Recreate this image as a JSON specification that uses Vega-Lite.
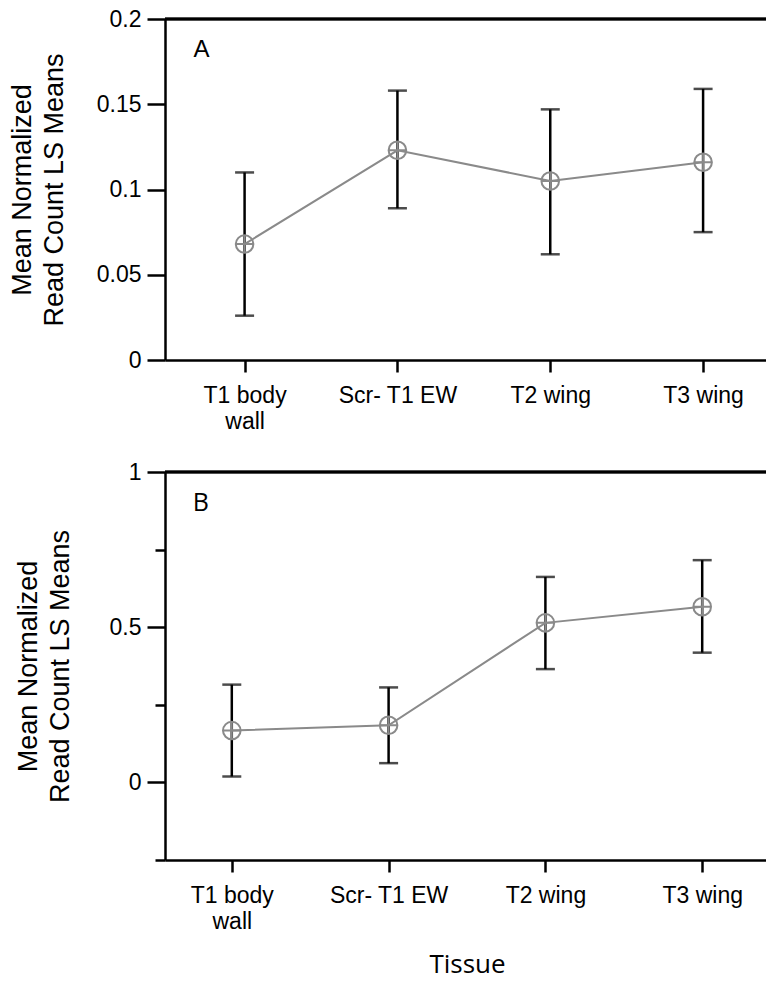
{
  "$schema": "https://vega.github.io/schema/vega-lite/v6.json",
  "background": "white",
  "padding": {"left": 8, "top": 8, "right": 0, "bottom": 0},
  "config": {
    "view": {"stroke": null},
    "font": "Liberation Sans",
    "axis": {
      "grid": false,
      "domainColor": "#000",
      "domainWidth": 2.5,
      "tickColor": "#000",
      "tickWidth": 2.5,
      "labelColor": "#000",
      "labelFont": "Liberation Sans",
      "titleFont": "Liberation Sans",
      "titleColor": "#000",
      "titleFontWeight": "normal"
    }
  },
  "columns": 1,
  "spacing": 28,
  "concat": [
    {
      "width": 604,
      "height": 341,
      "data": {"values": [
        {"tissue": "T1 body wall", "mean": 0.068, "lo": 0.026, "hi": 0.110},
        {"tissue": "Scr- T1 EW", "mean": 0.123, "lo": 0.089, "hi": 0.158},
        {"tissue": "T2 wing", "mean": 0.105, "lo": 0.062, "hi": 0.147},
        {"tissue": "T3 wing", "mean": 0.116, "lo": 0.075, "hi": 0.159}
      ]},
      "layer": [
        {
          "mark": {"type": "rule", "strokeWidth": 2.5, "color": "#000"},
          "encoding": {"y": {"datum": 0.2, "type": "quantitative"}}
        },
        {
          "mark": {"type": "rule", "strokeWidth": 2.5, "color": "#000"},
          "encoding": {
            "x": {"field": "tissue", "type": "ordinal", "sort": null,
              "scale": {"type": "point", "padding": 0.476, "align": 0.547},
              "axis": {"title": null, "labelFontSize": 23, "tickSize": 12, "labelPadding": 12, "labelAngle": 0,
                "labelLineHeight": 26,
                "labelExpr": "datum.value == 'T1 body wall' ? ['T1 body', 'wall'] : datum.value"}},
            "y": {"field": "lo", "type": "quantitative",
              "scale": {"domain": [0, 0.2], "nice": false, "zero": false},
              "axis": {"title": ["Mean Normalized", "Read Count LS Means"], "titleFontSize": 27, "titleLineHeight": 32,
                "titlePadding": 28, "labelFontSize": 23, "tickSize": 18, "labelPadding": 6,
                "values": [0, 0.05, 0.1, 0.15, 0.2], "format": "~g"}},
            "y2": {"field": "hi"}
          }
        },
        {
          "mark": {"type": "tick", "thickness": 2.5, "size": 19, "color": "#000"},
          "encoding": {
            "x": {"field": "tissue", "type": "ordinal", "sort": null},
            "y": {"field": "lo", "type": "quantitative"}
          }
        },
        {
          "mark": {"type": "tick", "thickness": 2.5, "size": 19, "color": "#000"},
          "encoding": {
            "x": {"field": "tissue", "type": "ordinal", "sort": null},
            "y": {"field": "hi", "type": "quantitative"}
          }
        },
        {
          "mark": {"type": "line", "color": "#8a8a8a", "strokeWidth": 2},
          "encoding": {
            "x": {"field": "tissue", "type": "ordinal", "sort": null},
            "y": {"field": "mean", "type": "quantitative"}
          }
        },
        {
          "mark": {"type": "point", "filled": false, "color": "#8a8a8a", "strokeWidth": 2, "size": 310, "opacity": 1,
            "shape": "M-1,0A1,1,0,1,1,1,0A1,1,0,1,1,-1,0ZM-1,0L1,0M0,-1L0,1"},
          "encoding": {
            "x": {"field": "tissue", "type": "ordinal", "sort": null},
            "y": {"field": "mean", "type": "quantitative"}
          }
        },
        {
          "data": {"values": [{"label": "A"}]},
          "mark": {"type": "text", "font": "Liberation Sans", "fontSize": 24, "color": "#000", "align": "center", "baseline": "middle", "dx": -43},
          "encoding": {
            "x": {"datum": "T1 body wall", "type": "ordinal"},
            "y": {"datum": 0.182, "type": "quantitative"},
            "text": {"field": "label"}
          }
        }
      ]
    },
    {
      "width": 604,
      "height": 388,
      "data": {"values": [
        {"tissue": "T1 body wall", "mean": 0.167, "lo": 0.019, "hi": 0.315},
        {"tissue": "Scr- T1 EW", "mean": 0.184, "lo": 0.062, "hi": 0.306},
        {"tissue": "T2 wing", "mean": 0.514, "lo": 0.365, "hi": 0.662},
        {"tissue": "T3 wing", "mean": 0.566, "lo": 0.418, "hi": 0.716}
      ]},
      "layer": [
        {
          "mark": {"type": "rule", "strokeWidth": 2.5, "color": "#000"},
          "encoding": {"y": {"datum": 1, "type": "quantitative"}}
        },
        {
          "mark": {"type": "rule", "strokeWidth": 2.5, "color": "#000"},
          "encoding": {
            "x": {"field": "tissue", "type": "ordinal", "sort": null,
              "scale": {"type": "point", "padding": 0.426, "align": 0.5},
              "axis": {"title": "Tissue", "titleFont": "Open Sans", "titleFontSize": 26, "titlePadding": 18,
                "labelFontSize": 23, "tickSize": 12, "labelPadding": 12, "labelAngle": 0,
                "labelLineHeight": 26,
                "labelExpr": "datum.value == 'T1 body wall' ? ['T1 body', 'wall'] : datum.value"}},
            "y": {"field": "lo", "type": "quantitative",
              "scale": {"domain": [-0.25, 1], "nice": false, "zero": false},
              "axis": {"title": ["Mean Normalized", "Read Count LS Means"], "titleFontSize": 27, "titleLineHeight": 32,
                "titlePadding": 35, "labelFontSize": 23,
                "tickSize": {"condition": {"test": "datum.value % 0.5 != 0", "value": 10}, "value": 18},
                "labelPadding": 6,
                "values": [-0.25, 0, 0.25, 0.5, 0.75, 1],
                "labelExpr": "datum.value % 0.5 == 0 ? format(datum.value, '~g') : ''"}},
            "y2": {"field": "hi"}
          }
        },
        {
          "mark": {"type": "tick", "thickness": 2.5, "size": 19, "color": "#000"},
          "encoding": {
            "x": {"field": "tissue", "type": "ordinal", "sort": null},
            "y": {"field": "lo", "type": "quantitative"}
          }
        },
        {
          "mark": {"type": "tick", "thickness": 2.5, "size": 19, "color": "#000"},
          "encoding": {
            "x": {"field": "tissue", "type": "ordinal", "sort": null},
            "y": {"field": "hi", "type": "quantitative"}
          }
        },
        {
          "mark": {"type": "line", "color": "#8a8a8a", "strokeWidth": 2},
          "encoding": {
            "x": {"field": "tissue", "type": "ordinal", "sort": null},
            "y": {"field": "mean", "type": "quantitative"}
          }
        },
        {
          "mark": {"type": "point", "filled": false, "color": "#8a8a8a", "strokeWidth": 2, "size": 310, "opacity": 1,
            "shape": "M-1,0A1,1,0,1,1,1,0A1,1,0,1,1,-1,0ZM-1,0L1,0M0,-1L0,1"},
          "encoding": {
            "x": {"field": "tissue", "type": "ordinal", "sort": null},
            "y": {"field": "mean", "type": "quantitative"}
          }
        },
        {
          "data": {"values": [{"label": "B"}]},
          "mark": {"type": "text", "font": "Open Sans", "fontSize": 25, "color": "#000", "align": "center", "baseline": "middle", "dx": -31},
          "encoding": {
            "x": {"datum": "T1 body wall", "type": "ordinal"},
            "y": {"datum": 0.9, "type": "quantitative"},
            "text": {"field": "label"}
          }
        }
      ]
    }
  ]
}
